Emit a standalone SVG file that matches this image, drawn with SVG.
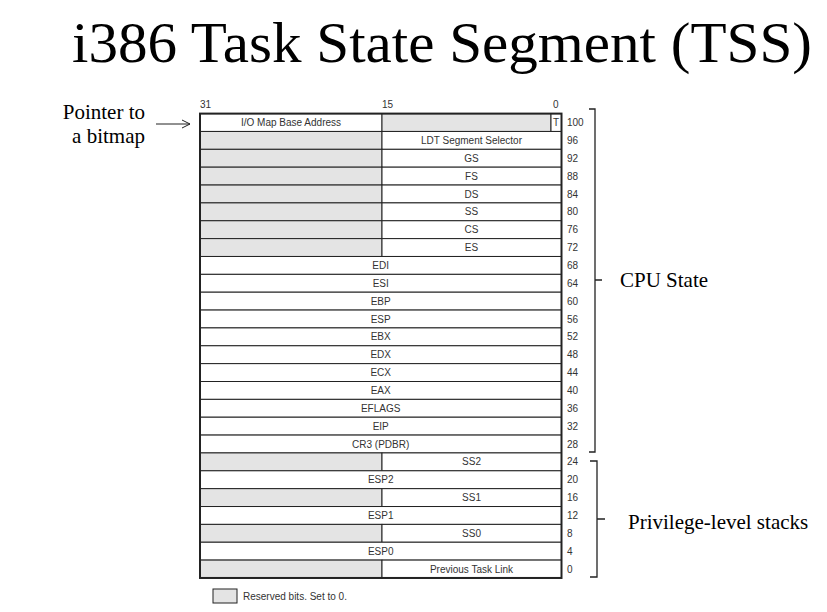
<svg xmlns="http://www.w3.org/2000/svg" width="827" height="612" viewBox="0 0 827 612">
<style>
.title{font-family:"Liberation Serif",serif;font-size:58px;fill:#000}
.lbl{font-family:"Liberation Serif",serif;font-size:21px;fill:#000}
.t{font-family:"Liberation Sans",Arial,sans-serif;font-size:10px;fill:#333}
.c{text-anchor:middle}
.w{fill:#fff;stroke:#222;stroke-width:1}
.g{fill:#e4e4e4;stroke:#222;stroke-width:1}
.br{fill:none;stroke:#222;stroke-width:1.3}
</style>
<defs>
<marker id="arr" markerWidth="10" markerHeight="10" refX="9" refY="5" orient="auto" markerUnits="userSpaceOnUse">
<path d="M1,1 L9,5 L1,9" fill="none" stroke="#222" stroke-width="1"/>
</marker>
</defs>
<rect width="827" height="612" fill="#fff"/>
<text class="title" x="72" y="62" textLength="740" lengthAdjust="spacingAndGlyphs">i386 Task State Segment (TSS)</text>

<g id="pointer-label">
<text class="lbl" x="145" y="119" text-anchor="end">Pointer to</text>
<text class="lbl" x="145" y="143" text-anchor="end">a bitmap</text>
</g>

<g id="bit-numbers" class="t">
<text x="200" y="108">31</text>
<text x="382" y="108">15</text>
<text x="553" y="108">0</text>
</g>

<g id="tss-table">
<g id="r100"><rect class="w" x="200" y="113.6" width="182" height="17.86"/><rect class="g" x="382" y="113.6" width="169" height="17.86"/><rect class="w" x="551" y="113.6" width="10.5" height="17.86"/><text class="t c" x="291" y="126">I/O Map Base Address</text><text class="t c" x="556" y="126">T</text><text class="t" x="567" y="126">100</text></g>
<g id="r96"><rect class="g" x="200" y="131.46" width="182" height="17.86"/><rect class="w" x="382" y="131.46" width="179.5" height="17.86"/><text class="t c" x="471.5" y="143.9">LDT Segment Selector</text><text class="t" x="567" y="143.9">96</text></g>
<g id="r92"><rect class="g" x="200" y="149.32" width="182" height="17.86"/><rect class="w" x="382" y="149.32" width="179.5" height="17.86"/><text class="t c" x="471.5" y="161.7">GS</text><text class="t" x="567" y="161.7">92</text></g>
<g id="r88"><rect class="g" x="200" y="167.18" width="182" height="17.86"/><rect class="w" x="382" y="167.18" width="179.5" height="17.86"/><text class="t c" x="471.5" y="179.6">FS</text><text class="t" x="567" y="179.6">88</text></g>
<g id="r84"><rect class="g" x="200" y="185.04" width="182" height="17.86"/><rect class="w" x="382" y="185.04" width="179.5" height="17.86"/><text class="t c" x="471.5" y="197.5">DS</text><text class="t" x="567" y="197.5">84</text></g>
<g id="r80"><rect class="g" x="200" y="202.9" width="182" height="17.86"/><rect class="w" x="382" y="202.9" width="179.5" height="17.86"/><text class="t c" x="471.5" y="215.3">SS</text><text class="t" x="567" y="215.3">80</text></g>
<g id="r76"><rect class="g" x="200" y="220.76" width="182" height="17.86"/><rect class="w" x="382" y="220.76" width="179.5" height="17.86"/><text class="t c" x="471.5" y="233.2">CS</text><text class="t" x="567" y="233.2">76</text></g>
<g id="r72"><rect class="g" x="200" y="238.62" width="182" height="17.86"/><rect class="w" x="382" y="238.62" width="179.5" height="17.86"/><text class="t c" x="471.5" y="251">ES</text><text class="t" x="567" y="251">72</text></g>
<g id="r68"><rect class="w" x="200" y="256.48" width="361.5" height="17.86"/><text class="t c" x="380.7" y="268.9">EDI</text><text class="t" x="567" y="268.9">68</text></g>
<g id="r64"><rect class="w" x="200" y="274.34" width="361.5" height="17.86"/><text class="t c" x="380.7" y="286.8">ESI</text><text class="t" x="567" y="286.8">64</text></g>
<g id="r60"><rect class="w" x="200" y="292.2" width="361.5" height="17.86"/><text class="t c" x="380.7" y="304.6">EBP</text><text class="t" x="567" y="304.6">60</text></g>
<g id="r56"><rect class="w" x="200" y="310.06" width="361.5" height="17.86"/><text class="t c" x="380.7" y="322.5">ESP</text><text class="t" x="567" y="322.5">56</text></g>
<g id="r52"><rect class="w" x="200" y="327.92" width="361.5" height="17.86"/><text class="t c" x="380.7" y="340.3">EBX</text><text class="t" x="567" y="340.3">52</text></g>
<g id="r48"><rect class="w" x="200" y="345.78" width="361.5" height="17.86"/><text class="t c" x="380.7" y="358.2">EDX</text><text class="t" x="567" y="358.2">48</text></g>
<g id="r44"><rect class="w" x="200" y="363.64" width="361.5" height="17.86"/><text class="t c" x="380.7" y="376">ECX</text><text class="t" x="567" y="376">44</text></g>
<g id="r40"><rect class="w" x="200" y="381.5" width="361.5" height="17.86"/><text class="t c" x="380.7" y="393.9">EAX</text><text class="t" x="567" y="393.9">40</text></g>
<g id="r36"><rect class="w" x="200" y="399.36" width="361.5" height="17.86"/><text class="t c" x="380.7" y="411.8">EFLAGS</text><text class="t" x="567" y="411.8">36</text></g>
<g id="r32"><rect class="w" x="200" y="417.22" width="361.5" height="17.86"/><text class="t c" x="380.7" y="429.6">EIP</text><text class="t" x="567" y="429.6">32</text></g>
<g id="r28"><rect class="w" x="200" y="435.08" width="361.5" height="17.86"/><text class="t c" x="380.7" y="447.5">CR3 (PDBR)</text><text class="t" x="567" y="447.5">28</text></g>
<g id="r24"><rect class="g" x="200" y="452.94" width="182" height="17.86"/><rect class="w" x="382" y="452.94" width="179.5" height="17.86"/><text class="t c" x="471.5" y="465.3">SS2</text><text class="t" x="567" y="465.3">24</text></g>
<g id="r20"><rect class="w" x="200" y="470.8" width="361.5" height="17.86"/><text class="t c" x="380.7" y="483.2">ESP2</text><text class="t" x="567" y="483.2">20</text></g>
<g id="r16"><rect class="g" x="200" y="488.66" width="182" height="17.86"/><rect class="w" x="382" y="488.66" width="179.5" height="17.86"/><text class="t c" x="471.5" y="501.1">SS1</text><text class="t" x="567" y="501.1">16</text></g>
<g id="r12"><rect class="w" x="200" y="506.52" width="361.5" height="17.86"/><text class="t c" x="380.7" y="518.9">ESP1</text><text class="t" x="567" y="518.9">12</text></g>
<g id="r8"><rect class="g" x="200" y="524.38" width="182" height="17.86"/><rect class="w" x="382" y="524.38" width="179.5" height="17.86"/><text class="t c" x="471.5" y="536.8">SS0</text><text class="t" x="567" y="536.8">8</text></g>
<g id="r4"><rect class="w" x="200" y="542.24" width="361.5" height="17.86"/><text class="t c" x="380.7" y="554.6">ESP0</text><text class="t" x="567" y="554.6">4</text></g>
<g id="r0"><rect class="g" x="200" y="560.1" width="182" height="17.86"/><rect class="w" x="382" y="560.1" width="179.5" height="17.86"/><text class="t c" x="471.5" y="572.5">Previous Task Link</text><text class="t" x="567" y="572.5">0</text></g>
<rect x="200" y="113.6" width="361.5" height="464.36" fill="none" stroke="#222" stroke-width="2"/>
</g>

<g id="connectors">
<line x1="156" y1="124" x2="190" y2="124" stroke="#222" stroke-width="1" marker-end="url(#arr)"/>
<path class="br" d="M589,109 H595 V452 H589 M595,280 H602"/>
<path class="br" d="M590,461 H597 V577 H590 M597,519 H605"/>
</g>

<g id="cpu-state-label"><text class="lbl" x="620" y="287">CPU State</text></g>
<g id="privilege-label"><text class="lbl" x="628" y="529">Privilege-level stacks</text></g>

<g id="legend">
<rect class="g" x="213" y="589" width="24" height="14" stroke="#666"/>
<text class="t" x="243" y="599.5">Reserved bits. Set to 0.</text>
</g>
</svg>
